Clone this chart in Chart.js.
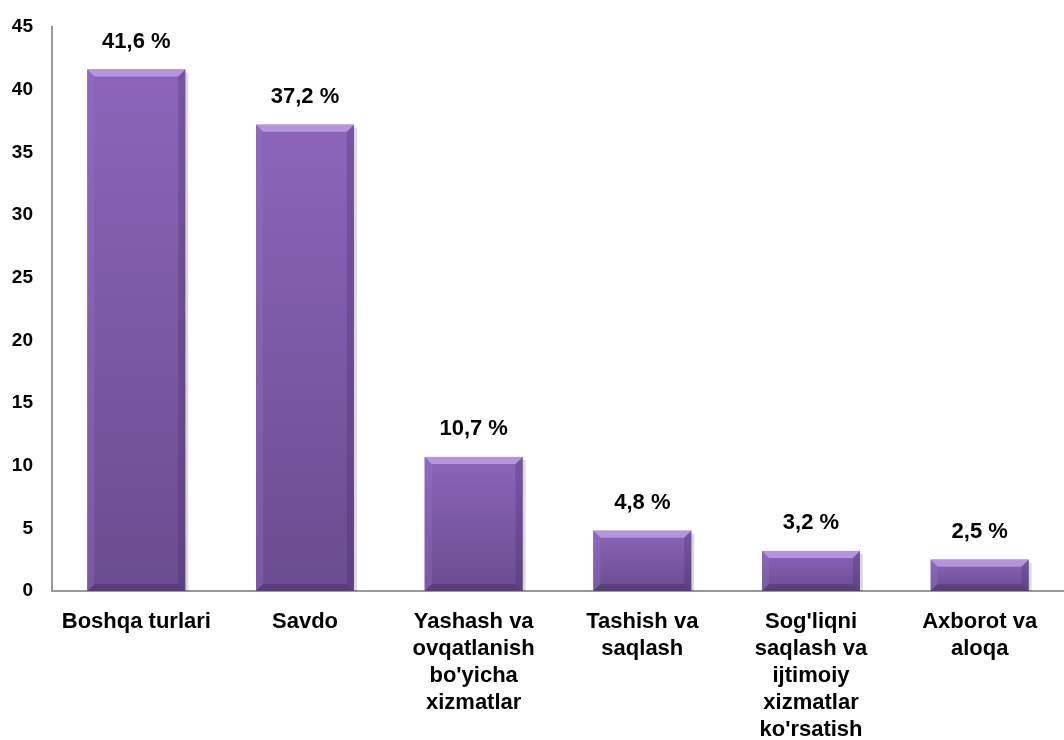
<!DOCTYPE html>
<html>
<head>
<meta charset="utf-8">
<script src="https://cdn.jsdelivr.net/npm/chart.js@4.4.1/dist/chart.umd.min.js"></script>
<style>
    html, body { margin: 0; padding: 0; background: #fff; }
    #wrap { width: 1064px; height: 740px; }
</style>
</head>
<body>
<div id="wrap"><canvas id="shareChart" width="1064" height="740"></canvas></div>
<script>
// Ulushlar (%), rasmdan o'qilgan
const categories = [
    ['Boshqa turlari'],
    ['Savdo'],
    ['Yashash va', 'ovqatlanish', "bo'yicha", 'xizmatlar'],
    ['Tashish va', 'saqlash'],
    ["Sog'liqni", 'saqlash va', 'ijtimoiy', 'xizmatlar', "ko'rsatish"],
    ['Axborot va', 'aloqa']
];
const shareValues = [41.6, 37.2, 10.7, 4.8, 3.2, 2.5];
const yTicks = [0, 5, 10, 15, 20, 25, 30, 35, 40, 45];

const FONT = '"Liberation Sans", Arial, sans-serif';

/**
 * Har bir ustunga gradient va "bevel" effekti, ustidan foiz yozuvi
 */
const bevelPlugin = {
    id: 'bevelBars',
    afterDatasetsDraw(chart) {
        const ctx = chart.ctx;
        const meta = chart.getDatasetMeta(0);
        meta.data.forEach((bar, i) => {
            const left = bar.x - bar.width / 2;
            const right = bar.x + bar.width / 2;
            const top = bar.y;
            const bottom = bar.base;
            const h = bottom - top;
            const b = Math.min(7, h / 2);

            ctx.save();
            // soya
            ctx.fillStyle = 'rgba(0,0,0,0.15)';
            ctx.fillRect(right, top + 3, 3, h - 3);

            const grad = ctx.createLinearGradient(0, top, 0, bottom);
            grad.addColorStop(0, '#8C65BA');
            grad.addColorStop(1, '#6A4C8F');
            ctx.fillStyle = grad;
            ctx.fillRect(left, top, right - left, h);

            // tepa
            ctx.fillStyle = 'rgba(200,170,240,0.7)';
            ctx.beginPath();
            ctx.moveTo(left, top);
            ctx.lineTo(right, top);
            ctx.lineTo(right - b, top + b);
            ctx.lineTo(left + b, top + b);
            ctx.closePath();
            ctx.fill();
            // chap
            ctx.fillStyle = 'rgba(150,115,200,0.35)';
            ctx.beginPath();
            ctx.moveTo(left, top);
            ctx.lineTo(left + b, top + b);
            ctx.lineTo(left + b, bottom - b);
            ctx.lineTo(left, bottom);
            ctx.closePath();
            ctx.fill();
            // o'ng
            ctx.fillStyle = 'rgba(60,35,90,0.25)';
            ctx.beginPath();
            ctx.moveTo(right, top);
            ctx.lineTo(right - b, top + b);
            ctx.lineTo(right - b, bottom - b);
            ctx.lineTo(right, bottom);
            ctx.closePath();
            ctx.fill();
            // past
            ctx.fillStyle = 'rgba(50,30,80,0.3)';
            ctx.beginPath();
            ctx.moveTo(left, bottom);
            ctx.lineTo(left + b, bottom - b);
            ctx.lineTo(right - b, bottom - b);
            ctx.lineTo(right, bottom);
            ctx.closePath();
            ctx.fill();

            // foiz yozuvi
            ctx.fillStyle = '#000';
            ctx.font = 'bold 22px ' + FONT;
            ctx.textAlign = 'center';
            ctx.textBaseline = 'middle';
            const label = shareValues[i].toFixed(1).replace('.', ',') + ' %';
            ctx.fillText(label, bar.x, top - 28);
            ctx.restore();
        });
    }
};

const ctx = document.getElementById('shareChart').getContext('2d');
new Chart(ctx, {
    type: 'bar',
    data: {
        labels: categories,
        datasets: [{
            data: shareValues,
            backgroundColor: '#7D5AA6',
            borderWidth: 0,
            categoryPercentage: 1.0,
            barPercentage: 0.58
        }]
    },
    options: {
        responsive: false,
        animation: false,
        layout: { padding: { top: 27, right: 0, left: 0, bottom: 0 } },
        plugins: {
            legend: { display: false },
            tooltip: { enabled: false }
        },
        scales: {
            x: {
                afterFit(scale) { scale.height = 149; },
                grid: { display: false },
                border: { color: '#999', width: 2 },
                ticks: {
                    color: '#000',
                    font: { family: FONT, size: 22, weight: 'bold', lineHeight: 1.22 },
                    padding: 10,
                    maxRotation: 0,
                    autoSkip: false
                }
            },
            y: {
                min: 0,
                max: 45,
                afterFit(scale) { scale.width = 52; },
                afterBuildTicks(scale) { scale.ticks = yTicks.map(v => ({ value: v })); },
                grid: { display: false },
                border: { color: '#999', width: 2 },
                ticks: {
                    color: '#000',
                    font: { family: FONT, size: 19, weight: 'bold' },
                    padding: 11
                }
            }
        }
    },
    plugins: [bevelPlugin]
});
</script>
</body>
</html>
